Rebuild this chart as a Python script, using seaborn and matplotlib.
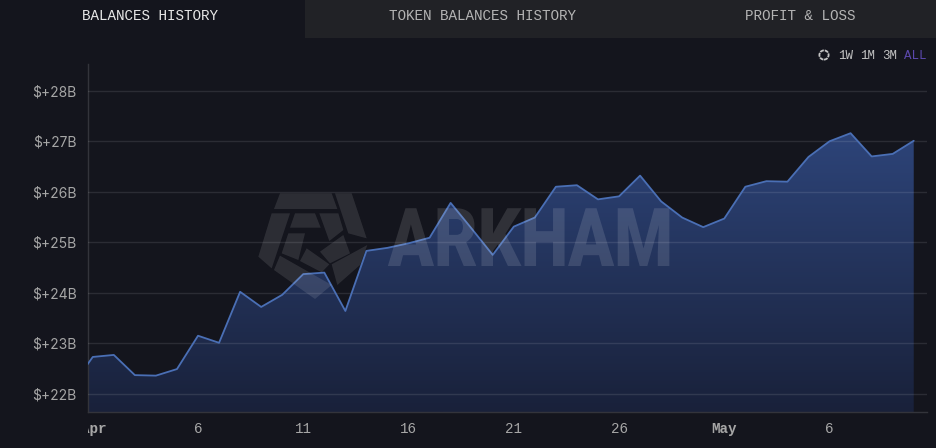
import numpy as np
import pandas as pd
import matplotlib.pyplot as plt
import matplotlib.dates as mdates
import matplotlib.patheffects as pe
import seaborn as sns
from matplotlib.colors import LinearSegmentedColormap
from matplotlib.patches import Polygon, Rectangle, Circle
from matplotlib.transforms import Affine2D, Bbox, IdentityTransform, ScaledTranslation

# balances per day in $B, 31 Mar to 10 May
dates = pd.date_range("2024-03-31", "2024-05-10", freq="D")
balances = [22.14, 22.73, 22.77, 22.37, 22.36, 22.49, 23.15, 23.01, 24.02, 23.72, 23.96,
            24.37, 24.40, 23.64, 24.83, 24.89, 24.98, 25.09, 25.78, 25.27, 24.75,
            25.31, 25.49, 26.10, 26.13, 25.85, 25.91, 26.32, 25.81, 25.49, 25.30,
            25.47, 26.10, 26.21, 26.20, 26.69, 27.00, 27.16, 26.70, 26.75, 27.01]
y_ticks = [22, 23, 24, 25, 26, 27, 28]
x_ticks = ["2024-04-01", "2024-04-06", "2024-04-11", "2024-04-16", "2024-04-21",
           "2024-04-26", "2024-05-01", "2024-05-06"]
x_labels = ["Apr", "6", "11", "16", "21", "26", "May", "6"]
tabs = ["BALANCES HISTORY", "TOKEN BALANCES HISTORY", "PROFIT & LOSS"]
ranges = ["1W", "1M", "3M", "ALL"]

W, H = 937, 448
BG = "#14151d"
MONO = "Liberation Mono"


class SqueezeX(pe.AbstractPathEffect):
    # narrows the watermark glyphs, matplotlib has no font stretch
    def __init__(self, x0, factor):
        super().__init__()
        self.x0 = x0
        self.factor = factor

    def draw_path(self, renderer, gc, tpath, affine, rgbFace=None):
        squeeze = Affine2D().translate(-self.x0, 0).scale(self.factor, 1).translate(self.x0, 0)
        renderer.draw_path(gc, tpath, affine + squeeze, rgbFace)


def fx(x):
    return x / W


def fy(y):
    return 1 - y / H


df = pd.DataFrame({"date": dates, "balance": balances})

sns.set_theme(style="dark", rc={"axes.facecolor": BG, "figure.facecolor": BG})
fig = plt.figure(figsize=(W / 100, H / 100), dpi=100)
ax = fig.add_axes([87.5 / W, 1 - 412 / H, (927 - 87.5) / W, (412 - 64) / H])

# tab bar
fig.add_artist(Rectangle((fx(305), fy(38)), fx(632), 38 / H, transform=fig.transFigure,
                         facecolor="#212226", edgecolor="none", zorder=-1))
fig.text(fx(149.5), fy(16.5), tabs[0], color="#e8e8e8", family=MONO, fontsize=10.3, ha="center", va="center")
fig.text(fx(483), fy(16.5), tabs[1], color="#b4b4b4", family=MONO, fontsize=10.3, ha="center", va="center")
fig.text(fx(800), fy(16.5), tabs[2], color="#b4b4b4", family=MONO, fontsize=10.3, ha="center", va="center")

# gradient area under the line
xnum = mdates.date2num(df["date"])
area = ax.fill_between(df["date"], df["balance"], 21.64, facecolor="none", edgecolor="none")
fill_cmap = LinearSegmentedColormap.from_list("fill", ["#2d4479", "#19213a"])
img = ax.imshow(np.linspace(0, 1, 256).reshape(-1, 1), cmap=fill_cmap, aspect="auto", zorder=1,
                extent=[xnum[0], xnum[-1], 21.64, 27.16], origin="upper")
img.set_clip_path(area.get_paths()[0], transform=ax.transData)

sns.lineplot(data=df, x="date", y="balance", color="#4a6fb5", linewidth=1.3, ax=ax, zorder=3)

ax.set_xlim(mdates.date2num(pd.Timestamp("2024-04-01")) - 0.25,
            mdates.date2num(pd.Timestamp("2024-04-01")) + 39.63)
ax.set_ylim(21.64, 28.53)
ax.set_xlabel("")
ax.set_ylabel("")

ax.set_yticks(y_ticks)
ax.set_yticklabels([f"$+{v}B" for v in y_ticks], color="#a6a6a6", fontsize=10, family="Inter")
ax.set_xticks(mdates.date2num(pd.to_datetime(x_ticks)))
ax.set_xticklabels(x_labels, color="#a6a6a6", fontsize=10.3, family=MONO)
ax.tick_params(axis="both", length=0)
ax.tick_params(axis="y", pad=8)
ax.tick_params(axis="x", pad=7.5)
for lab in ax.get_xticklabels():
    if lab.get_text() in ("Apr", "May"):
        lab.set_fontweight("bold")

ax.grid(axis="y", color="white", alpha=0.1, linewidth=1, zorder=2)
ax.grid(axis="x", visible=False)
ax.set_axisbelow(False)
sns.despine(ax=ax, top=True, right=True)
for side in ("left", "bottom"):
    ax.spines[side].set_color("#33343b")
    ax.spines[side].set_linewidth(1)

# "Apr" is cut off by the left edge of the plot in the original
fig.canvas.draw()
first = ax.get_xticklabels()[0]
first.set_transform(first.get_transform() + ScaledTranslation(1 / 100, 0, fig.dpi_scale_trans))
first.set_clip_box(Bbox([[87.5, 0], [200, 60]]))
first.set_clip_on(True)

# range selector, top right
fig.add_artist(Circle((824, H - 55), 4.6, transform=IdentityTransform(), facecolor="none",
                      edgecolor="#c4c4c4", linewidth=1.3, linestyle=(0, (2.2, 0.5))))
for label, x0, col in zip(ranges, [838, 860, 882, 904], ["#c4c4c4", "#c4c4c4", "#c4c4c4", "#5b48ad"]):
    fig.text(fx(x0), fy(56), label, color=col, family=MONO, fontsize=9, ha="left", va="center")

# watermark
mark = fig.text(fx(388), fy(266), "ARKHAM", color="white", alpha=0.12, fontsize=58.5, fontweight=900,
                family="Roboto", ha="left", va="baseline", zorder=4)
mark_width = mark.get_window_extent(fig.canvas.get_renderer()).width
mark.set_path_effects([SqueezeX(388, 285 / mark_width)])
logo_parts = [
    [(90, 25), (245, 25), (262, 72), (72, 72)],
    [(65, 85), (120, 85), (65, 250), (25, 215)],
    [(255, 25), (305, 25), (350, 160), (295, 145)],
    [(135, 85), (195, 85), (212, 128), (120, 128)],
    [(208, 85), (265, 85), (280, 135), (238, 168)],
    [(115, 145), (165, 145), (145, 225), (95, 205)],
    [(210, 200), (280, 150), (300, 205), (240, 235)],
    [(72, 255), (90, 212), (245, 300), (195, 342)],
    [(150, 228), (170, 190), (238, 238), (215, 262)],
    [(352, 180), (330, 240), (262, 300), (245, 238)],
]
for part in logo_parts:
    pts = [(fx(250 + px / 3), fy(185 + py / 3)) for px, py in part]
    fig.add_artist(Polygon(pts, closed=True, transform=fig.transFigure, facecolor="white",
                           edgecolor="none", alpha=0.105, zorder=4))

plt.savefig("out.png", dpi=100, facecolor=BG)
